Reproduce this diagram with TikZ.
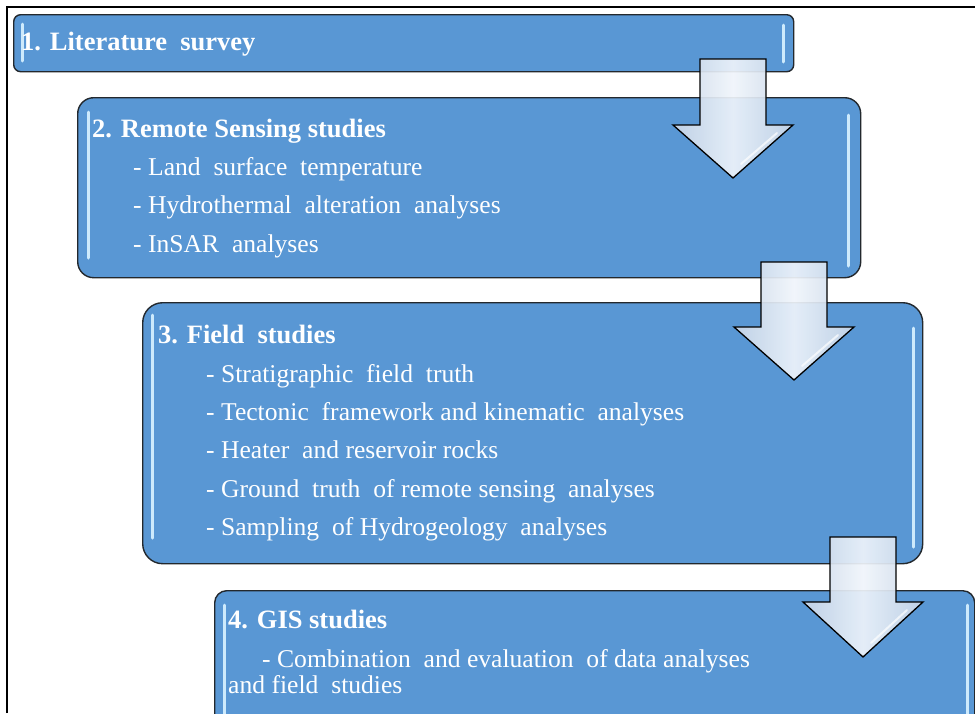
\documentclass[tikz,border=0pt]{standalone}
\usepackage{fontspec}
\setmainfont{Liberation Serif}
\definecolor{boxblue}{RGB}{89,151,212}
\definecolor{boxedge}{RGB}{35,40,45}
\definecolor{glow}{RGB}{205,234,252}
\definecolor{arrowside}{RGB}{200,214,232}
\definecolor{arrowmid}{RGB}{240,245,251}
\tikzset{
  stage/.style={draw=boxedge, line width=1.4pt, fill=boxblue, anchor=north west, inner sep=0pt},
  title/.style={anchor=base west, text=white, font=\fontsize{26.5}{30}\selectfont\bfseries, inner sep=0pt},
  item/.style={anchor=base west, text=white, font=\fontsize{25.6}{30}\selectfont, inner sep=0pt},
  glint/.style={draw=glow, line width=3pt, line cap=round},
  flow/.style={draw=black, line width=1.3pt, left color=arrowside, right color=arrowside, middle color=arrowmid, fill opacity=0.92, line join=miter},
}
\newcommand{\blockdown}[4]{%
  \path[flow] (#1-33,#2) -- (#1+33,#2) -- (#1+33,#3) -- (#1+60,#3) -- (#1,#4) -- (#1-60,#3) -- (#1-33,#3) -- cycle;
  \draw[white, line width=2pt, opacity=0.7, line cap=round] (#1+8,#4-14) -- (#1+44,#3+8);}
\begin{document}
\begin{tikzpicture}[x=1pt,y=-1pt]
\useasboundingbox (0,0) rectangle (975,713);
\clip (0,0) rectangle (975,713);
\fill[white] (0,0) rectangle (975,713);
\draw[line width=1.2pt] (7,713) -- (7,7) -- (975,7);

% boxes
\node[stage, rounded corners=7pt, minimum width=780pt, minimum height=57pt] (b1) at (13,14) {};
\node[stage, rounded corners=16pt, minimum width=783pt, minimum height=180pt] (b2) at (77,97) {};
\node[stage, rounded corners=20pt, minimum width=780pt, minimum height=261pt] (b3) at (142,302) {};
\node[stage, rounded corners=12pt, minimum width=760pt, minimum height=140pt] (b4) at (214,590) {};

% glints
\draw[glint] (22,24) -- (22,61);
\draw[glint] (783,25) -- (783,62);
\draw[glint] (88,112) -- (88,258);
\draw[glint] (848,115) -- (848,266);
\draw[glint] (152,315) -- (152,538);
\draw[glint] (913,328) -- (913,547);
\draw[glint] (224,605) -- (224,720);
\draw[glint] (967,605) -- (967,720);

% texts
\node[title] (t1) at (21,50) {1. Literature\ \ survey};
\node[title] (t2) at (92,137) {2. Remote Sensing studies};
\node[item] (t2a) at (133,175) {- Land\ \ surface\ \ temperature};
\node[item] (t2b) at (133,213) {- Hydrothermal\ \ alteration\ \ analyses};
\node[item] (t2c) at (133,252) {- InSAR\ \ analyses};
\node[title] (t3) at (158,343) {3. Field\ \ studies};
\node[item] (t3a) at (206,382) {- Stratigraphic\ \ field\ \ truth};
\node[item] (t3b) at (206,420) {- Tectonic\ \ framework and kinematic\ \ analyses};
\node[item] (t3c) at (206,458) {- Heater\ \ and reservoir rocks};
\node[item] (t3d) at (206,497) {- Ground\ \ truth\ \ of remote sensing\ \ analyses};
\node[item] (t3e) at (206,535) {- Sampling\ \ of Hydrogeology\ \ analyses};
\node[title] (t4) at (228,628) {4. GIS studies};
\node[item] (t4a) at (262,667) {- Combination\ \ and evaluation\ \ of data analyses};
\node[item] (t4b) at (228,693) {and field\ \ studies};

% arrows
\blockdown{733}{59}{125}{178}
\blockdown{794}{262}{327}{380}
\blockdown{863}{537}{602}{657}
\end{tikzpicture}
\end{document}
